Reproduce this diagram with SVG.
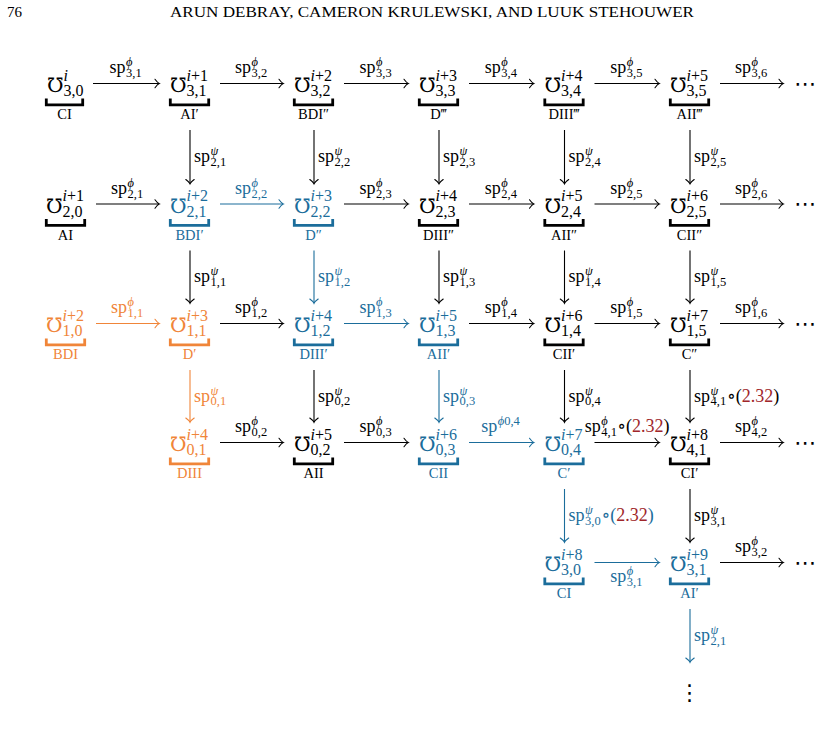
<svg xmlns="http://www.w3.org/2000/svg" width="821" height="742" viewBox="0 0 821 742">
<style>
text{font-family:"Liberation Serif","DejaVu Serif",serif}
.m{font-family:"DejaVu Serif","DejaVu Sans",serif;font-size:20px;text-anchor:end}
.ns{font-size:16px}
.nl{font-size:14.5px;text-anchor:middle}
.el{font-size:18px}
.es{font-size:12.5px}
.it{font-style:italic}
.br{fill:none;stroke-width:2.8}
.a{fill:none;stroke-width:1.1}
.K text{fill:#000}.K path{stroke:#000}
.B text{fill:#1b6d9b}.B path{stroke:#1b6d9b}
.O text{fill:#f08539}.O path{stroke:#f08539}
.sk{stroke:#000}.sb{stroke:#1b6d9b}.so{stroke:#f08539}
.fk{fill:#000}.fb{fill:#1b6d9b}.fo{fill:#f08539}.fr{fill:#a0262a}
.dots{font-family:"DejaVu Sans",sans-serif;font-size:22px}
.hd{font-size:15px}
</style>
<defs>
<marker id="hk" markerUnits="userSpaceOnUse" orient="auto" overflow="visible" markerWidth="10" markerHeight="10"><path d="M-4,-4.2 Q-1.5,-0.7 0.3,0 Q-1.5,0.7 -4,4.2" fill="none" stroke="#000" stroke-width="1.1" stroke-linecap="round"/></marker>
<marker id="hb" markerUnits="userSpaceOnUse" orient="auto" overflow="visible" markerWidth="10" markerHeight="10"><path d="M-4,-4.2 Q-1.5,-0.7 0.3,0 Q-1.5,0.7 -4,4.2" fill="none" stroke="#1b6d9b" stroke-width="1.1" stroke-linecap="round"/></marker>
<marker id="ho" markerUnits="userSpaceOnUse" orient="auto" overflow="visible" markerWidth="10" markerHeight="10"><path d="M-4,-4.2 Q-1.5,-0.7 0.3,0 Q-1.5,0.7 -4,4.2" fill="none" stroke="#f08539" stroke-width="1.1" stroke-linecap="round"/></marker>
</defs>

<g id="header">
<text class="hd" x="7" y="17">76</text>
<text class="hd" x="170" y="17" textLength="524" lengthAdjust="spacingAndGlyphs">ARUN DEBRAY, CAMERON KRULEWSKI, AND LUUK STEHOUWER</text>
</g>

<!-- Row 3,* -->
<g id="n30" class="K" transform="translate(64.5,83.5)"><text class="m" x="-1" y="8.5">℧</text><text class="ns" x="-1" y="-3"><tspan class="it">i</tspan></text><text class="ns" x="-1" y="12.5">3,0</text><path class="br" d="M-18.2,15 V21.3 H18.2 V15"/><text class="nl" y="35.5">CI</text></g>
<g id="n31" class="K" transform="translate(189.5,83.5)"><text class="m" x="-3" y="8.5">℧</text><text class="ns" x="-3" y="-3"><tspan class="it">i</tspan>+1</text><text class="ns" x="-3" y="12.5">3,1</text><path class="br" d="M-19.2,15 V21.3 H19.2 V15"/><text class="nl" y="35.5">AI′</text></g>
<g id="n32" class="K" transform="translate(313.5,83.5)"><text class="m" x="-3" y="8.5">℧</text><text class="ns" x="-3" y="-3"><tspan class="it">i</tspan>+2</text><text class="ns" x="-3" y="12.5">3,2</text><path class="br" d="M-19.2,15 V21.3 H19.2 V15"/><text class="nl" y="35.5">BDI″</text></g>
<g id="n33" class="K" transform="translate(438.5,83.5)"><text class="m" x="-3" y="8.5">℧</text><text class="ns" x="-3" y="-3"><tspan class="it">i</tspan>+3</text><text class="ns" x="-3" y="12.5">3,3</text><path class="br" d="M-19.2,15 V21.3 H19.2 V15"/><text class="nl" y="35.5">D‴</text></g>
<g id="n34" class="K" transform="translate(564,83.5)"><text class="m" x="-3" y="8.5">℧</text><text class="ns" x="-3" y="-3"><tspan class="it">i</tspan>+4</text><text class="ns" x="-3" y="12.5">3,4</text><path class="br" d="M-19.2,15 V21.3 H19.2 V15"/><text class="nl" y="35.5">DIII‴</text></g>
<g id="n35" class="K" transform="translate(689.5,83.5)"><text class="m" x="-3" y="8.5">℧</text><text class="ns" x="-3" y="-3"><tspan class="it">i</tspan>+5</text><text class="ns" x="-3" y="12.5">3,5</text><path class="br" d="M-19.2,15 V21.3 H19.2 V15"/><text class="nl" y="35.5">AII‴</text></g>

<!-- Row 2,* -->
<g id="n20" class="K" transform="translate(65.5,204)"><text class="m" x="-3" y="8.5">℧</text><text class="ns" x="-3" y="-3"><tspan class="it">i</tspan>+1</text><text class="ns" x="-3" y="12.5">2,0</text><path class="br" d="M-19.2,15 V21.3 H19.2 V15"/><text class="nl" y="35.5">AI</text></g>
<g id="n21" class="B" transform="translate(189.5,204)"><text class="m" x="-3" y="8.5">℧</text><text class="ns" x="-3" y="-3"><tspan class="it">i</tspan>+2</text><text class="ns" x="-3" y="12.5">2,1</text><path class="br" d="M-19.2,15 V21.3 H19.2 V15"/><text class="nl" y="35.5">BDI′</text></g>
<g id="n22" class="B" transform="translate(313.5,204)"><text class="m" x="-3" y="8.5">℧</text><text class="ns" x="-3" y="-3"><tspan class="it">i</tspan>+3</text><text class="ns" x="-3" y="12.5">2,2</text><path class="br" d="M-19.2,15 V21.3 H19.2 V15"/><text class="nl" y="35.5">D″</text></g>
<g id="n23" class="K" transform="translate(438.5,204)"><text class="m" x="-3" y="8.5">℧</text><text class="ns" x="-3" y="-3"><tspan class="it">i</tspan>+4</text><text class="ns" x="-3" y="12.5">2,3</text><path class="br" d="M-19.2,15 V21.3 H19.2 V15"/><text class="nl" y="35.5">DIII″</text></g>
<g id="n24" class="K" transform="translate(564,204)"><text class="m" x="-3" y="8.5">℧</text><text class="ns" x="-3" y="-3"><tspan class="it">i</tspan>+5</text><text class="ns" x="-3" y="12.5">2,4</text><path class="br" d="M-19.2,15 V21.3 H19.2 V15"/><text class="nl" y="35.5">AII″</text></g>
<g id="n25" class="K" transform="translate(689.5,204)"><text class="m" x="-3" y="8.5">℧</text><text class="ns" x="-3" y="-3"><tspan class="it">i</tspan>+6</text><text class="ns" x="-3" y="12.5">2,5</text><path class="br" d="M-19.2,15 V21.3 H19.2 V15"/><text class="nl" y="35.5">CII″</text></g>

<!-- Row 1,* -->
<g id="n10" class="O" transform="translate(65.5,323.5)"><text class="m" x="-3" y="8.5">℧</text><text class="ns" x="-3" y="-3"><tspan class="it">i</tspan>+2</text><text class="ns" x="-3" y="12.5">1,0</text><path class="br" d="M-19.2,15 V21.3 H19.2 V15"/><text class="nl" y="35.5">BDI</text></g>
<g id="n11" class="O" transform="translate(189.5,323.5)"><text class="m" x="-3" y="8.5">℧</text><text class="ns" x="-3" y="-3"><tspan class="it">i</tspan>+3</text><text class="ns" x="-3" y="12.5">1,1</text><path class="br" d="M-19.2,15 V21.3 H19.2 V15"/><text class="nl" y="35.5">D′</text></g>
<g id="n12" class="B" transform="translate(313.5,323.5)"><text class="m" x="-3" y="8.5">℧</text><text class="ns" x="-3" y="-3"><tspan class="it">i</tspan>+4</text><text class="ns" x="-3" y="12.5">1,2</text><path class="br" d="M-19.2,15 V21.3 H19.2 V15"/><text class="nl" y="35.5">DIII′</text></g>
<g id="n13" class="B" transform="translate(438.5,323.5)"><text class="m" x="-3" y="8.5">℧</text><text class="ns" x="-3" y="-3"><tspan class="it">i</tspan>+5</text><text class="ns" x="-3" y="12.5">1,3</text><path class="br" d="M-19.2,15 V21.3 H19.2 V15"/><text class="nl" y="35.5">AII′</text></g>
<g id="n14" class="K" transform="translate(564,323.5)"><text class="m" x="-3" y="8.5">℧</text><text class="ns" x="-3" y="-3"><tspan class="it">i</tspan>+6</text><text class="ns" x="-3" y="12.5">1,4</text><path class="br" d="M-19.2,15 V21.3 H19.2 V15"/><text class="nl" y="35.5">CII′</text></g>
<g id="n15" class="K" transform="translate(689.5,323.5)"><text class="m" x="-3" y="8.5">℧</text><text class="ns" x="-3" y="-3"><tspan class="it">i</tspan>+7</text><text class="ns" x="-3" y="12.5">1,5</text><path class="br" d="M-19.2,15 V21.3 H19.2 V15"/><text class="nl" y="35.5">C″</text></g>

<!-- Row 0,* -->
<g id="n01" class="O" transform="translate(189.5,442.5)"><text class="m" x="-3" y="8.5">℧</text><text class="ns" x="-3" y="-3"><tspan class="it">i</tspan>+4</text><text class="ns" x="-3" y="12.5">0,1</text><path class="br" d="M-19.2,15 V21.3 H19.2 V15"/><text class="nl" y="35.5">DIII</text></g>
<g id="n02" class="K" transform="translate(313.5,442.5)"><text class="m" x="-3" y="8.5">℧</text><text class="ns" x="-3" y="-3"><tspan class="it">i</tspan>+5</text><text class="ns" x="-3" y="12.5">0,2</text><path class="br" d="M-19.2,15 V21.3 H19.2 V15"/><text class="nl" y="35.5">AII</text></g>
<g id="n03" class="B" transform="translate(438.5,442.5)"><text class="m" x="-3" y="8.5">℧</text><text class="ns" x="-3" y="-3"><tspan class="it">i</tspan>+6</text><text class="ns" x="-3" y="12.5">0,3</text><path class="br" d="M-19.2,15 V21.3 H19.2 V15"/><text class="nl" y="35.5">CII</text></g>
<g id="n04" class="B" transform="translate(564,442.5)"><text class="m" x="-3" y="8.5">℧</text><text class="ns" x="-3" y="-3"><tspan class="it">i</tspan>+7</text><text class="ns" x="-3" y="12.5">0,4</text><path class="br" d="M-19.2,15 V21.3 H19.2 V15"/><text class="nl" y="35.5">C′</text></g>
<g id="n41" class="K" transform="translate(689.5,442.5)"><text class="m" x="-3" y="8.5">℧</text><text class="ns" x="-3" y="-3"><tspan class="it">i</tspan>+8</text><text class="ns" x="-3" y="12.5">4,1</text><path class="br" d="M-19.2,15 V21.3 H19.2 V15"/><text class="nl" y="35.5">CI′</text></g>

<!-- Row 5 -->
<g id="n30b" class="B" transform="translate(564,562.5)"><text class="m" x="-3" y="8.5">℧</text><text class="ns" x="-3" y="-3"><tspan class="it">i</tspan>+8</text><text class="ns" x="-3" y="12.5">3,0</text><path class="br" d="M-19.2,15 V21.3 H19.2 V15"/><text class="nl" y="35.5">CI</text></g>
<g id="n31b" class="B" transform="translate(689.5,562.5)"><text class="m" x="-3" y="8.5">℧</text><text class="ns" x="-3" y="-3"><tspan class="it">i</tspan>+9</text><text class="ns" x="-3" y="12.5">3,1</text><path class="br" d="M-19.2,15 V21.3 H19.2 V15"/><text class="nl" y="35.5">AI′</text></g>

<g id="ellipses">
<text class="dots" x="794" y="90.5">⋯</text>
<text class="dots" x="794" y="211">⋯</text>
<text class="dots" x="794" y="330.5">⋯</text>
<text class="dots" x="794" y="449.5">⋯</text>
<text class="dots" x="794" y="569.5">⋯</text>
<text class="dots" x="689.5" y="700" text-anchor="middle">⋮</text>
</g>

<g id="connectors">
<!-- row 3 horizontal -->
<path class="a sk" d="M93,83.5H159" marker-end="url(#hk)"/>
<text class="el fk" transform="translate(126,83.5)"><tspan x="-16.5" y="-10.5">sp</tspan><tspan class="es it" x="0" y="-17.5">ϕ</tspan><tspan class="es" x="0" y="-6.5">3,1</tspan></text>
<path class="a sk" d="M220,83.5H283" marker-end="url(#hk)"/>
<text class="el fk" transform="translate(251.5,83.5)"><tspan x="-16.5" y="-10.5">sp</tspan><tspan class="es it" x="0" y="-17.5">ϕ</tspan><tspan class="es" x="0" y="-6.5">3,2</tspan></text>
<path class="a sk" d="M344,83.5H408" marker-end="url(#hk)"/>
<text class="el fk" transform="translate(376,83.5)"><tspan x="-16.5" y="-10.5">sp</tspan><tspan class="es it" x="0" y="-17.5">ϕ</tspan><tspan class="es" x="0" y="-6.5">3,3</tspan></text>
<path class="a sk" d="M469,83.5H533.5" marker-end="url(#hk)"/>
<text class="el fk" transform="translate(501.25,83.5)"><tspan x="-16.5" y="-10.5">sp</tspan><tspan class="es it" x="0" y="-17.5">ϕ</tspan><tspan class="es" x="0" y="-6.5">3,4</tspan></text>
<path class="a sk" d="M594.5,83.5H659" marker-end="url(#hk)"/>
<text class="el fk" transform="translate(626.75,83.5)"><tspan x="-16.5" y="-10.5">sp</tspan><tspan class="es it" x="0" y="-17.5">ϕ</tspan><tspan class="es" x="0" y="-6.5">3,5</tspan></text>
<path class="a sk" d="M720,83.5H783" marker-end="url(#hk)"/>
<text class="el fk" transform="translate(751.5,83.5)"><tspan x="-16.5" y="-10.5">sp</tspan><tspan class="es it" x="0" y="-17.5">ϕ</tspan><tspan class="es" x="0" y="-6.5">3,6</tspan></text>

<!-- row 3 -> row 2 vertical -->
<path class="a sk" d="M190,130V183.5" marker-end="url(#hk)"/>
<text class="el fk" transform="translate(190,156.75)"><tspan x="4" y="5.5">sp</tspan><tspan class="es it" x="20.5" y="-1.5">ψ</tspan><tspan class="es" x="20.5" y="9">2,1</tspan></text>
<path class="a sk" d="M314,130V183.5" marker-end="url(#hk)"/>
<text class="el fk" transform="translate(314,156.75)"><tspan x="4" y="5.5">sp</tspan><tspan class="es it" x="20.5" y="-1.5">ψ</tspan><tspan class="es" x="20.5" y="9">2,2</tspan></text>
<path class="a sk" d="M439,130V183.5" marker-end="url(#hk)"/>
<text class="el fk" transform="translate(439,156.75)"><tspan x="4" y="5.5">sp</tspan><tspan class="es it" x="20.5" y="-1.5">ψ</tspan><tspan class="es" x="20.5" y="9">2,3</tspan></text>
<path class="a sk" d="M564.5,130V183.5" marker-end="url(#hk)"/>
<text class="el fk" transform="translate(564.5,156.75)"><tspan x="4" y="5.5">sp</tspan><tspan class="es it" x="20.5" y="-1.5">ψ</tspan><tspan class="es" x="20.5" y="9">2,4</tspan></text>
<path class="a sk" d="M690,130V183.5" marker-end="url(#hk)"/>
<text class="el fk" transform="translate(690,156.75)"><tspan x="4" y="5.5">sp</tspan><tspan class="es it" x="20.5" y="-1.5">ψ</tspan><tspan class="es" x="20.5" y="9">2,5</tspan></text>

<!-- row 2 horizontal -->
<path class="a sk" d="M96,204H159" marker-end="url(#hk)"/>
<text class="el fk" transform="translate(127.5,204)"><tspan x="-16.5" y="-10.5">sp</tspan><tspan class="es it" x="0" y="-17.5">ϕ</tspan><tspan class="es" x="0" y="-6.5">2,1</tspan></text>
<path class="a sb" d="M220,204H283" marker-end="url(#hb)"/>
<text class="el fb" transform="translate(251.5,204)"><tspan x="-16.5" y="-10.5">sp</tspan><tspan class="es it" x="0" y="-17.5">ϕ</tspan><tspan class="es" x="0" y="-6.5">2,2</tspan></text>
<path class="a sk" d="M344,204H408" marker-end="url(#hk)"/>
<text class="el fk" transform="translate(376,204)"><tspan x="-16.5" y="-10.5">sp</tspan><tspan class="es it" x="0" y="-17.5">ϕ</tspan><tspan class="es" x="0" y="-6.5">2,3</tspan></text>
<path class="a sk" d="M469,204H533.5" marker-end="url(#hk)"/>
<text class="el fk" transform="translate(501.25,204)"><tspan x="-16.5" y="-10.5">sp</tspan><tspan class="es it" x="0" y="-17.5">ϕ</tspan><tspan class="es" x="0" y="-6.5">2,4</tspan></text>
<path class="a sk" d="M594.5,204H659" marker-end="url(#hk)"/>
<text class="el fk" transform="translate(626.75,204)"><tspan x="-16.5" y="-10.5">sp</tspan><tspan class="es it" x="0" y="-17.5">ϕ</tspan><tspan class="es" x="0" y="-6.5">2,5</tspan></text>
<path class="a sk" d="M720,204H783" marker-end="url(#hk)"/>
<text class="el fk" transform="translate(751.5,204)"><tspan x="-16.5" y="-10.5">sp</tspan><tspan class="es it" x="0" y="-17.5">ϕ</tspan><tspan class="es" x="0" y="-6.5">2,6</tspan></text>

<!-- row 2 -> row 1 vertical -->
<path class="a sk" d="M190,250.5V303" marker-end="url(#hk)"/>
<text class="el fk" transform="translate(190,276.75)"><tspan x="4" y="5.5">sp</tspan><tspan class="es it" x="20.5" y="-1.5">ψ</tspan><tspan class="es" x="20.5" y="9">1,1</tspan></text>
<path class="a sb" d="M314,250.5V303" marker-end="url(#hb)"/>
<text class="el fb" transform="translate(314,276.75)"><tspan x="4" y="5.5">sp</tspan><tspan class="es it" x="20.5" y="-1.5">ψ</tspan><tspan class="es" x="20.5" y="9">1,2</tspan></text>
<path class="a sk" d="M439,250.5V303" marker-end="url(#hk)"/>
<text class="el fk" transform="translate(439,276.75)"><tspan x="4" y="5.5">sp</tspan><tspan class="es it" x="20.5" y="-1.5">ψ</tspan><tspan class="es" x="20.5" y="9">1,3</tspan></text>
<path class="a sk" d="M564.5,250.5V303" marker-end="url(#hk)"/>
<text class="el fk" transform="translate(564.5,276.75)"><tspan x="4" y="5.5">sp</tspan><tspan class="es it" x="20.5" y="-1.5">ψ</tspan><tspan class="es" x="20.5" y="9">1,4</tspan></text>
<path class="a sk" d="M690,250.5V303" marker-end="url(#hk)"/>
<text class="el fk" transform="translate(690,276.75)"><tspan x="4" y="5.5">sp</tspan><tspan class="es it" x="20.5" y="-1.5">ψ</tspan><tspan class="es" x="20.5" y="9">1,5</tspan></text>

<!-- row 1 horizontal -->
<path class="a so" d="M96,323.5H159" marker-end="url(#ho)"/>
<text class="el fo" transform="translate(127.5,323.5)"><tspan x="-16.5" y="-10.5">sp</tspan><tspan class="es it" x="0" y="-17.5">ϕ</tspan><tspan class="es" x="0" y="-6.5">1,1</tspan></text>
<path class="a sk" d="M220,323.5H283" marker-end="url(#hk)"/>
<text class="el fk" transform="translate(251.5,323.5)"><tspan x="-16.5" y="-10.5">sp</tspan><tspan class="es it" x="0" y="-17.5">ϕ</tspan><tspan class="es" x="0" y="-6.5">1,2</tspan></text>
<path class="a sb" d="M344,323.5H408" marker-end="url(#hb)"/>
<text class="el fb" transform="translate(376,323.5)"><tspan x="-16.5" y="-10.5">sp</tspan><tspan class="es it" x="0" y="-17.5">ϕ</tspan><tspan class="es" x="0" y="-6.5">1,3</tspan></text>
<path class="a sk" d="M469,323.5H533.5" marker-end="url(#hk)"/>
<text class="el fk" transform="translate(501.25,323.5)"><tspan x="-16.5" y="-10.5">sp</tspan><tspan class="es it" x="0" y="-17.5">ϕ</tspan><tspan class="es" x="0" y="-6.5">1,4</tspan></text>
<path class="a sk" d="M594.5,323.5H659" marker-end="url(#hk)"/>
<text class="el fk" transform="translate(626.75,323.5)"><tspan x="-16.5" y="-10.5">sp</tspan><tspan class="es it" x="0" y="-17.5">ϕ</tspan><tspan class="es" x="0" y="-6.5">1,5</tspan></text>
<path class="a sk" d="M720,323.5H783" marker-end="url(#hk)"/>
<text class="el fk" transform="translate(751.5,323.5)"><tspan x="-16.5" y="-10.5">sp</tspan><tspan class="es it" x="0" y="-17.5">ϕ</tspan><tspan class="es" x="0" y="-6.5">1,6</tspan></text>

<!-- row 1 -> row 0 vertical -->
<path class="a so" d="M190,370V422" marker-end="url(#ho)"/>
<text class="el fo" transform="translate(190,396)"><tspan x="4" y="5.5">sp</tspan><tspan class="es it" x="20.5" y="-1.5">ψ</tspan><tspan class="es" x="20.5" y="9">0,1</tspan></text>
<path class="a sk" d="M314,370V422" marker-end="url(#hk)"/>
<text class="el fk" transform="translate(314,396)"><tspan x="4" y="5.5">sp</tspan><tspan class="es it" x="20.5" y="-1.5">ψ</tspan><tspan class="es" x="20.5" y="9">0,2</tspan></text>
<path class="a sb" d="M439,370V422" marker-end="url(#hb)"/>
<text class="el fb" transform="translate(439,396)"><tspan x="4" y="5.5">sp</tspan><tspan class="es it" x="20.5" y="-1.5">ψ</tspan><tspan class="es" x="20.5" y="9">0,3</tspan></text>
<path class="a sk" d="M564.5,370V422" marker-end="url(#hk)"/>
<text class="el fk" transform="translate(564.5,396)"><tspan x="4" y="5.5">sp</tspan><tspan class="es it" x="20.5" y="-1.5">ψ</tspan><tspan class="es" x="20.5" y="9">0,4</tspan></text>
<path class="a sk" d="M690,370V422" marker-end="url(#hk)"/>
<text class="el fk" transform="translate(690,396)"><tspan x="4" y="5.5">sp</tspan><tspan class="es it" x="20.5" y="-1.5">ψ</tspan><tspan class="es" x="20.5" y="9">4,1</tspan><tspan x="37" y="5.5">∘(<tspan class="fr">2.32</tspan>)</tspan></text>

<!-- row 0 horizontal -->
<path class="a sk" d="M220,442.5H283" marker-end="url(#hk)"/>
<text class="el fk" transform="translate(251.5,442.5)"><tspan x="-16.5" y="-10.5">sp</tspan><tspan class="es it" x="0" y="-17.5">ϕ</tspan><tspan class="es" x="0" y="-6.5">0,2</tspan></text>
<path class="a sk" d="M344,442.5H408" marker-end="url(#hk)"/>
<text class="el fk" transform="translate(376,442.5)"><tspan x="-16.5" y="-10.5">sp</tspan><tspan class="es it" x="0" y="-17.5">ϕ</tspan><tspan class="es" x="0" y="-6.5">0,3</tspan></text>
<path class="a sb" d="M469,442.5H533.5" marker-end="url(#hb)"/>
<text class="el fb" transform="translate(501.25,442.5)"><tspan x="-20" y="-10.5">sp</tspan><tspan class="es" x="-3.5" y="-17.5"><tspan class="it">ϕ</tspan>0,4</tspan></text>
<path class="a sk" d="M594.5,442.5H659" marker-end="url(#hk)"/>
<text class="el fk" transform="translate(626.75,442.5)"><tspan x="-42" y="-10.5">sp</tspan><tspan class="es it" x="-25.5" y="-17.5">ϕ</tspan><tspan class="es" x="-25.5" y="-6.5">4,1</tspan><tspan x="-9.5" y="-10.5">∘(<tspan class="fr">2.32</tspan>)</tspan></text>
<path class="a sk" d="M720,442.5H783" marker-end="url(#hk)"/>
<text class="el fk" transform="translate(751.5,442.5)"><tspan x="-16.5" y="-10.5">sp</tspan><tspan class="es it" x="0" y="-17.5">ϕ</tspan><tspan class="es" x="0" y="-6.5">4,2</tspan></text>

<!-- row 0 -> row 5 vertical -->
<path class="a sb" d="M564.5,489V542" marker-end="url(#hb)"/>
<text class="el fb" transform="translate(564.5,515.5)"><tspan x="4" y="5.5">sp</tspan><tspan class="es it" x="20.5" y="-1.5">ψ</tspan><tspan class="es" x="20.5" y="9">3,0</tspan><tspan x="37" y="5.5">∘(<tspan class="fr">2.32</tspan>)</tspan></text>
<path class="a sk" d="M690,489V542" marker-end="url(#hk)"/>
<text class="el fk" transform="translate(690,515.5)"><tspan x="4" y="5.5">sp</tspan><tspan class="es it" x="20.5" y="-1.5">ψ</tspan><tspan class="es" x="20.5" y="9">3,1</tspan></text>

<!-- row 5 horizontal -->
<path class="a sb" d="M594.5,562.5H659" marker-end="url(#hb)"/>
<text class="el fb" transform="translate(626.75,562.5)"><tspan x="-16.5" y="19.5">sp</tspan><tspan class="es it" x="0" y="12.5">ϕ</tspan><tspan class="es" x="0" y="23">3,1</tspan></text>
<path class="a sk" d="M720,562.5H783" marker-end="url(#hk)"/>
<text class="el fk" transform="translate(751.5,562.5)"><tspan x="-16.5" y="-10.5">sp</tspan><tspan class="es it" x="0" y="-17.5">ϕ</tspan><tspan class="es" x="0" y="-6.5">3,2</tspan></text>

<!-- row 5 -> dots -->
<path class="a sb" d="M690,609V662" marker-end="url(#hb)"/>
<text class="el fb" transform="translate(690,635.5)"><tspan x="4" y="5.5">sp</tspan><tspan class="es it" x="20.5" y="-1.5">ψ</tspan><tspan class="es" x="20.5" y="9">2,1</tspan></text>
</g>
</svg>
